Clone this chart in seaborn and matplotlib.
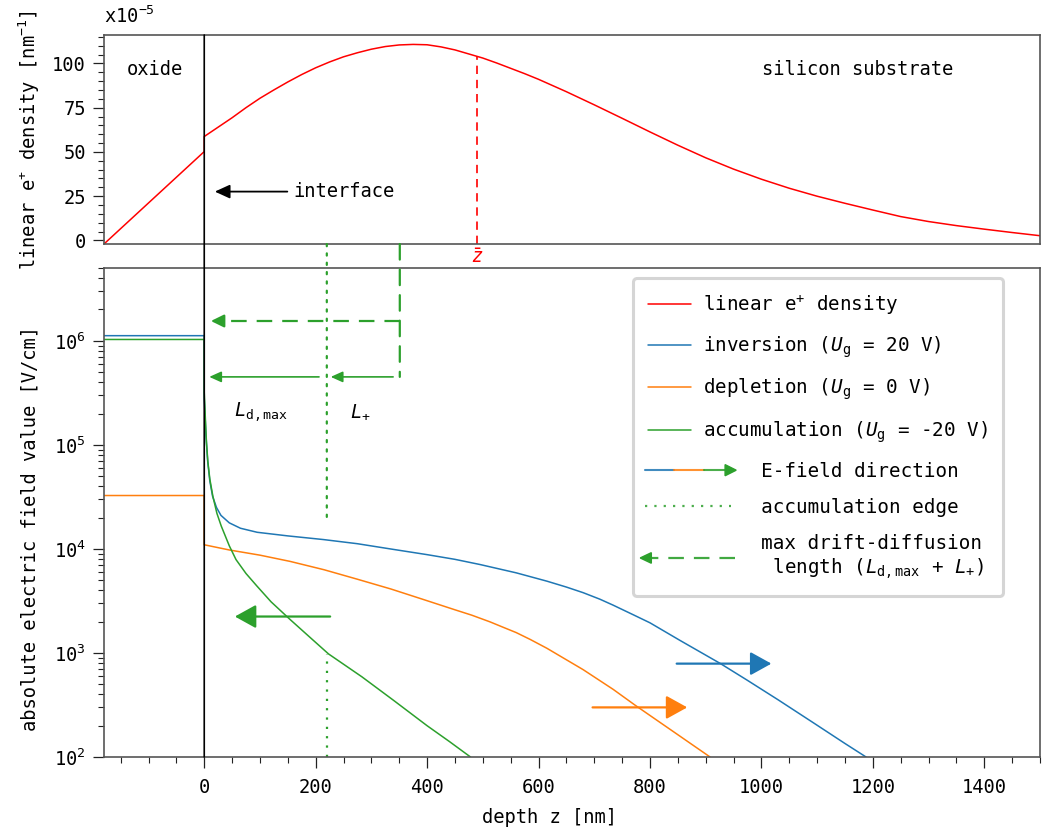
import numpy as np
import pandas as pd
import matplotlib
matplotlib.use("Agg")
import matplotlib.pyplot as plt
import seaborn as sns
from matplotlib.lines import Line2D
from matplotlib.patches import Polygon, ConnectionPatch
from matplotlib.legend_handler import HandlerBase
from matplotlib.transforms import blended_transform_factory
from matplotlib.ticker import MultipleLocator, LogLocator, NullFormatter

# ---------------- data ----------------
# linear e+ density, units of 1e-5 nm^-1
z_density = [-180, 0, 0, 25, 50, 75, 100, 125, 150, 175, 200, 225, 250, 275, 300, 325,
             350, 375, 400, 425, 450, 475, 500, 525, 550, 575, 600, 650, 700, 750, 800,
             850, 900, 950, 1000, 1050, 1100, 1150, 1200, 1250, 1300, 1350, 1400, 1450,
             1500]
density = [-2, 50.2, 58.7, 64, 69.3, 75, 80.3, 85, 89.5, 93.7, 97.5, 100.8, 103.7, 106,
           108, 109.5, 110.4, 110.7, 110.5, 109.3, 107.6, 105.3, 103, 100.2, 97.2, 94.2,
           91, 84, 76.6, 69, 61.3, 53.8, 46.7, 40.3, 34.6, 29.5, 25, 21, 17.2, 13.5,
           10.7, 8.4, 6.4, 4.5, 2.7]
z_bar = 490
density_at_zbar = 104

# oxide field values (constant in the oxide, z from -180 to 0)
z_oxide = [-180, 0]
E_oxide_inv = 1.12e6
E_oxide_dep = 3.26e4
E_oxide_acc = 1.03e6

# inversion (U_g = 20 V)
z_inv = [0, 3, 6, 10, 15, 22, 30, 45, 65, 95, 150, 214, 275, 334, 400, 450, 495, 560,
         615, 650, 680, 710, 734, 770, 800, 854, 926, 974, 1030, 1093, 1150, 1188]
E_inv = [2.8e5, 1.26e5, 7.1e4, 4.5e4, 3.2e4, 2.5e4, 2.1e4, 1.78e4, 1.58e4, 1.445e4,
         1.334e4, 1.23e4, 1.122e4, 1.0e4, 8.81e3, 7.94e3, 7.08e3, 5.89e3, 4.9e3, 4.3e3,
         3.8e3, 3.29e3, 2.88e3, 2.33e3, 1.95e3, 1.32e3, 7.94e2, 5.5e2, 3.55e2, 2.14e2,
         1.35e2, 1.0e2]

# depletion (U_g = 0 V)
z_dep = [0, 45, 100, 154, 215, 274, 335, 393, 450, 480, 513, 535, 560, 585, 615, 680,
         734, 773, 800, 854, 908]
E_dep = [1.096e4, 9.77e3, 8.71e3, 7.59e3, 6.31e3, 5.13e3, 4.12e3, 3.27e3, 2.6e3, 2.31e3,
         1.99e3, 1.78e3, 1.57e3, 1.35e3, 1.11e3, 6.92e2, 4.47e2, 3.16e2, 2.51e2,
         1.585e2, 1.0e2]

# accumulation (U_g = -20 V)
z_acc = [0, 2, 4, 6.6, 10, 15.5, 22.7, 30.5, 45, 57, 75, 94.5, 120, 154, 190, 223, 283,
         340, 400, 440, 478]
E_acc = [3.2e5, 1.8e5, 1.05e5, 6.8e4, 4.7e4, 3.2e4, 2.2e4, 1.66e4, 1.07e4, 7.9e3, 5.8e3,
         4.4e3, 3.1e3, 2.1e3, 1.41e3, 9.8e2, 5.9e2, 3.5e2, 2.0e2, 1.41e2, 1.0e2]

z_acc_edge = 220
E_acc_at_edge = 9.8e2
L_plus_start = 351

legend_labels = [
    "linear e$^{+}$ density",
    r"inversion ($U_\mathrm{g}$ = 20 V)",
    r"depletion ($U_\mathrm{g}$ = 0 V)",
    r"accumulation ($U_\mathrm{g}$ = -20 V)",
    "     E-field direction",
    "     accumulation edge",
    "     max drift-diffusion\n      length ($L_\\mathrm{d,max}$ + $L_{+}$)",
]

# ---------------- style ----------------
RED = "#ff0000"
BLUE = "#1f77b4"
ORANGE = "#ff7f0e"
GREEN = "#2ca02c"
FS = 13.5
LEG_FS = 13.9

sns.set_theme(style="ticks")
plt.rcParams.update({
    "font.family": ["DejaVu Sans Mono", "DejaVu Sans"],
    "font.size": FS,
    "axes.labelsize": FS,
    "xtick.labelsize": FS,
    "ytick.labelsize": FS,
    "legend.fontsize": LEG_FS,
    "mathtext.fontset": "custom",
    "mathtext.rm": "DejaVu Sans Mono",
    "mathtext.it": "DejaVu Sans Mono:italic",
    "mathtext.bf": "DejaVu Sans Mono:bold",
    "axes.edgecolor": "#555555",
    "axes.linewidth": 1.2,
    "xtick.color": "#222222",
    "ytick.color": "#222222",
    "text.color": "black",
    "axes.labelcolor": "black",
    "xtick.labelcolor": "black",
    "ytick.labelcolor": "black",
})

fig = plt.figure(figsize=(10.48, 8.32), dpi=100)
ax_top = fig.add_axes([0.0992, 0.7067, 0.8931, 0.2512])
ax_bot = fig.add_axes([0.0992, 0.0901, 0.8931, 0.5877])

XMIN, XMAX = -180, 1500
TOP_YMIN, TOP_YMAX = -2, 116
BOT_YMIN, BOT_YMAX = 1e2, 5e6

# ---------------- top panel ----------------
df_d = pd.DataFrame({"z": z_density, "n": density})
sns.lineplot(data=df_d, x="z", y="n", ax=ax_top, color=RED, lw=1.1,
             estimator=None, sort=False)
ax_top.set_xlim(XMIN, XMAX)
ax_top.set_ylim(TOP_YMIN, TOP_YMAX)
ax_top.yaxis.set_major_locator(MultipleLocator(25))
ax_top.yaxis.set_minor_locator(MultipleLocator(5))
ax_top.tick_params(axis="x", which="both", bottom=False, labelbottom=False)
ax_top.tick_params(axis="y", which="major", length=8, width=0.9, pad=5)
ax_top.tick_params(axis="y", which="minor", length=4, width=0.8)
ax_top.set_xlabel("")
ax_top.set_ylabel("linear e$^{+}$ density [nm$^{-1}$]")
ax_top.yaxis.set_label_coords(-0.066, 0.5)
ax_top.text(0.0, 1.04, "x10$^{-5}$", transform=ax_top.transAxes, ha="left", va="bottom")

ax_top.plot([z_bar, z_bar], [TOP_YMIN, density_at_zbar], color=RED, lw=1.2,
            ls=(0, (5, 3.5)))
tr_top = blended_transform_factory(ax_top.transData, ax_top.transAxes)
ax_top.text(z_bar, -0.02, r"$\bar{z}$", transform=tr_top, color=RED,
            ha="center", va="top")

ax_top.text(-139, 96.4, "oxide", ha="left", va="center")
ax_top.text(1001, 96.4, "silicon substrate", ha="left", va="center")
ax_top.annotate("interface", xy=(19, 27.6), xytext=(160, 27.6), va="center", ha="left",
                arrowprops=dict(arrowstyle="-|>,head_length=0.7,head_width=0.32",
                                color="black", lw=1.3, mutation_scale=13,
                                shrinkA=2, shrinkB=0))

# ---------------- bottom panel ----------------
df_inv = pd.DataFrame({"z": z_oxide + z_inv, "E": [E_oxide_inv] * 2 + E_inv})
df_dep = pd.DataFrame({"z": z_oxide + z_dep, "E": [E_oxide_dep] * 2 + E_dep})
df_acc = pd.DataFrame({"z": z_oxide + z_acc, "E": [E_oxide_acc] * 2 + E_acc})

ax_bot.set_yscale("log")
sns.lineplot(data=df_inv, x="z", y="E", ax=ax_bot, color=BLUE, lw=1.1,
             estimator=None, sort=False)
sns.lineplot(data=df_dep, x="z", y="E", ax=ax_bot, color=ORANGE, lw=1.1,
             estimator=None, sort=False)
sns.lineplot(data=df_acc, x="z", y="E", ax=ax_bot, color=GREEN, lw=1.1,
             estimator=None, sort=False)
ax_bot.set_xlim(XMIN, XMAX)
ax_bot.set_ylim(BOT_YMIN, BOT_YMAX)
ax_bot.xaxis.set_major_locator(MultipleLocator(200))
ax_bot.xaxis.set_minor_locator(MultipleLocator(50))
ax_bot.yaxis.set_major_locator(LogLocator(base=10, numticks=12))
ax_bot.yaxis.set_minor_locator(LogLocator(base=10, subs=np.arange(2, 10), numticks=12))
ax_bot.yaxis.set_minor_formatter(NullFormatter())
ax_bot.tick_params(axis="both", which="major", length=8, width=0.9)
ax_bot.tick_params(axis="both", which="minor", length=4, width=0.8)
ax_bot.tick_params(axis="x", which="major", pad=7)
ax_bot.tick_params(axis="y", which="major", pad=5)
ax_bot.set_xlabel("depth z [nm]")
ax_bot.xaxis.set_label_coords(0.4765, -0.104)
ax_bot.set_ylabel("absolute electric field value [V/cm]")
ax_bot.yaxis.set_label_coords(-0.069, 0.468)

# E-field direction arrows
def big_arrow(x0, x1, y, color):
    ax_bot.annotate("", xy=(x1, y), xytext=(x0, y),
                    arrowprops=dict(arrowstyle="-|>,head_length=0.65,head_width=0.36",
                                    color=color, lw=1.6, mutation_scale=20,
                                    shrinkA=0, shrinkB=0))

big_arrow(226, 55, 2.24e3, GREEN)
big_arrow(848, 1018, 7.9e2, BLUE)
big_arrow(697, 867, 3.0e2, ORANGE)

# accumulation edge (dotted)
dot_ls = (0, (1, 3.2))
ax_bot.plot([z_acc_edge, z_acc_edge], [BOT_YMIN, E_acc_at_edge], color=GREEN,
            lw=1.6, ls=dot_ls)
fig.add_artist(ConnectionPatch(xyA=(z_acc_edge, TOP_YMIN), coordsA=ax_top.transData,
                               xyB=(z_acc_edge, 1.9e4), coordsB=ax_bot.transData,
                               color=GREEN, lw=1.6, ls=dot_ls))

# max drift-diffusion length (dashed)
dash_ls = (0, (7, 4.5))
fig.add_artist(ConnectionPatch(xyA=(L_plus_start, TOP_YMIN), coordsA=ax_top.transData,
                               xyB=(L_plus_start, 4.5e5), coordsB=ax_bot.transData,
                               color=GREEN, lw=1.6, ls=dash_ls))
ax_bot.plot([L_plus_start, 31], [1.55e6, 1.55e6], color=GREEN, lw=1.6, ls=dash_ls)
ax_bot.annotate("", xy=(12, 1.55e6), xytext=(34, 1.55e6),
                arrowprops=dict(arrowstyle="-|>,head_length=0.65,head_width=0.32",
                                color=GREEN, lw=1.6, mutation_scale=12,
                                shrinkA=0, shrinkB=0))

# L_d,max and L_+ arrows
def small_arrow(x0, x1, y):
    ax_bot.annotate("", xy=(x1, y), xytext=(x0, y),
                    arrowprops=dict(arrowstyle="-|>,head_length=0.6,head_width=0.27",
                                    color=GREEN, lw=1.2, mutation_scale=12,
                                    shrinkA=0, shrinkB=0))

small_arrow(339, 227, 4.5e5)
small_arrow(206, 9, 4.5e5)
ax_bot.text(102, 2.05e5, r"$L_\mathrm{d,max}$", ha="center", va="center")
ax_bot.text(281, 2.05e5, r"$L_{+}$", ha="center", va="center")

# interface line at z = 0 spanning both panels
fig.add_artist(ConnectionPatch(xyA=(0, TOP_YMAX), coordsA=ax_top.transData,
                               xyB=(0, BOT_YMIN), coordsB=ax_bot.transData,
                               color="black", lw=1.2))

# ---------------- legend ----------------
class EFieldHandler(HandlerBase):
    def create_artists(self, legend, orig_handle, xdescent, ydescent, width, height,
                       fontsize, trans):
        y = height / 2 - ydescent
        x0 = -xdescent - 2.2
        seg = 21.0
        arts = []
        for i, c in enumerate([BLUE, ORANGE, GREEN]):
            xa = x0 + i * seg
            xb = xa + seg if i < 2 else x0 + 57.5
            arts.append(Line2D([xa, xb], [y, y], color=c, lw=1.5, alpha=0.85,
                               transform=trans))
        tip = x0 + 65.5
        arts.append(Polygon([[tip - 8, y - 4], [tip, y], [tip - 8, y + 4]], closed=True,
                            color=GREEN, transform=trans))
        return arts


class DottedHandler(HandlerBase):
    def create_artists(self, legend, orig_handle, xdescent, ydescent, width, height,
                       fontsize, trans):
        y = height / 2 - ydescent
        x0 = -xdescent - 2.2
        return [Line2D([x0, x0 + 62], [y, y], color=GREEN, lw=1.6, ls=dot_ls,
                       alpha=0.85, transform=trans)]


class DashedArrowHandler(HandlerBase):
    def create_artists(self, legend, orig_handle, xdescent, ydescent, width, height,
                       fontsize, trans):
        y = height / 2 - ydescent
        x0 = -xdescent
        line = Line2D([x0 + 62.5, x0], [y, y], color=GREEN, lw=1.6, ls=dash_ls,
                      alpha=0.9, transform=trans)
        tip = x0 - 5.8
        head = Polygon([[tip, y], [tip + 8, y - 3.8], [tip + 8, y + 3.8]], closed=True,
                       color=GREEN, transform=trans)
        return [line, head]


h_red = Line2D([], [], color=RED, lw=1.1)
h_blue = Line2D([], [], color=BLUE, lw=1.1)
h_orange = Line2D([], [], color=ORANGE, lw=1.1)
h_green = Line2D([], [], color=GREEN, lw=1.1)
h_ef = Line2D([], [])
h_edge = Line2D([], [])
h_dd = Line2D([], [])

leg = ax_bot.legend(
    [h_red, h_blue, h_orange, h_green, h_ef, h_edge, h_dd], legend_labels,
    handler_map={h_ef: EFieldHandler(), h_edge: DottedHandler(),
                 h_dd: DashedArrowHandler()},
    loc="upper right", bbox_to_anchor=(0.9605, 0.9796), borderaxespad=0,
    handlelength=2.2, handletextpad=0.62, labelspacing=0.88, borderpad=0.8,
    fancybox=True, framealpha=1.0, edgecolor="#d5d5d5",
)
leg.get_frame().set_linewidth(2.2)

fig.savefig("out.png", dpi=100)
